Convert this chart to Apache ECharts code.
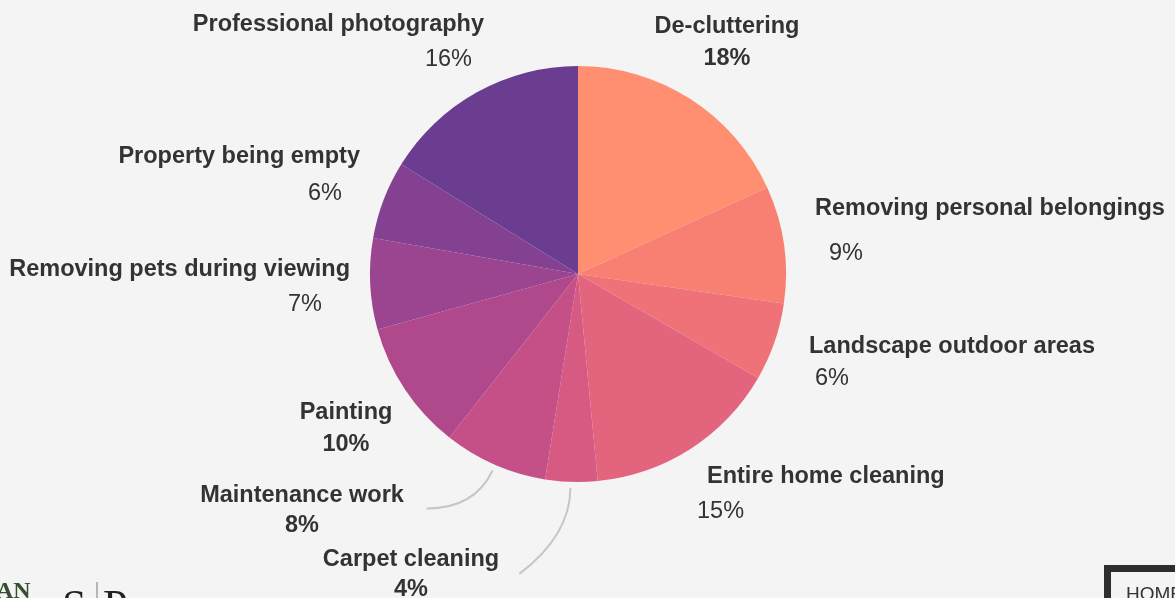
<!DOCTYPE html>
<html>
<head>
<meta charset="utf-8">
<script src="https://cdn.jsdelivr.net/npm/echarts@6/dist/echarts.min.js"></script>
<style>
html,body{margin:0;padding:0;background:#f4f4f4;}
#chart{width:1175px;height:598px;}
</style>
</head>
<body>
<div id="chart"></div>
<script>
// ---- data ----
const categories = ['De-cluttering', 'Removing personal belongings', 'Landscape outdoor areas',
  'Entire home cleaning', 'Carpet cleaning', 'Maintenance work', 'Painting',
  'Removing pets during viewing', 'Property being empty', 'Professional photography'];
const values = [18, 9, 6, 15, 4, 8, 10, 7, 6, 16];
const valueLabels = ['18%', '9%', '6%', '15%', '4%', '8%', '10%', '7%', '6%', '16%'];

// ---- styles ----
const colors = ['#ff8f70', '#f88073', '#ef7279', '#e2657d', '#d75a82',
  '#c45087', '#b0498b', '#9b448f', '#854191', '#6a3d91'];
const valueBold = [true, false, false, false, true, true, true, false, false, false];
// label placement: anchor x, name baseline y, align, name pad, value pad, line gap
const labelPlace = [
  { x: 727, b: 35,  align: 'center', np: 0,  vp: 0,  gap: 32 },
  { x: 815, b: 217, align: 'left',   np: 0,  vp: 14, gap: 45 },
  { x: 809, b: 355, align: 'left',   np: 0,  vp: 6,  gap: 32 },
  { x: 697, b: 485, align: 'left',   np: 10, vp: 0,  gap: 35 },
  { x: 411, b: 568, align: 'center', np: 0,  vp: 0,  gap: 30 },
  { x: 302, b: 504, align: 'center', np: 0,  vp: 0,  gap: 30 },
  { x: 346, b: 421, align: 'center', np: 0,  vp: 0,  gap: 32 },
  { x: 350, b: 278, align: 'right',  np: 0,  vp: 28, gap: 35 },
  { x: 360, b: 165, align: 'right',  np: 0,  vp: 18, gap: 37 },
  { x: 484, b: 33,  align: 'right',  np: 0,  vp: 12, gap: 35 }
];
// guide curves (start, control, end) as offsets from the slice's outer mid point
const guides = {
  4: [[-1, 6], [-1, 53], [-52, 92]],
  5: [[-2, 6], [-20, 44], [-68, 44]]
};

const CENTER = [578, 274];
const RADIUS = 208;
const FONT = "'Liberation Sans', Arial, sans-serif";
const FS = 23.5;
const NAME_LH = 32;

function makePad(p, pad) {
  if (p.align === 'left') return [0, 0, 0, pad];
  if (p.align === 'right') return [0, pad, 0, 0];
  return [0, 0, 0, 0];
}

const data = categories.map(function (c, i) {
  const p = labelPlace[i];
  return {
    name: c,
    value: values[i],
    itemStyle: { color: colors[i] },
    label: {
      formatter: '{n|' + c + '}\n{v|' + valueLabels[i] + '}',
      rich: {
        n: { fontFamily: FONT, fontSize: FS, fontWeight: 'bold', color: '#333', lineHeight: NAME_LH, padding: makePad(p, p.np) },
        v: { fontFamily: FONT, fontSize: FS, fontWeight: valueBold[i] ? 'bold' : 'normal', color: '#333', lineHeight: 2 * p.gap - NAME_LH, padding: makePad(p, p.vp) }
      }
    }
  };
});

// guide curves anchored at each slice's outer mid-angle point (derived from the values)
const total = values.reduce(function (s, v) { return s + v; }, 0);
const guideGraphics = [];
let cum = 0;
values.forEach(function (v, i) {
  const theta = (cum + v / 2) / total * Math.PI * 2;
  cum += v;
  if (!guides[i]) return;
  const ax = CENTER[0] + RADIUS * Math.sin(theta);
  const ay = CENTER[1] - RADIUS * Math.cos(theta);
  const g = guides[i];
  guideGraphics.push({
    type: 'bezierCurve',
    shape: { x1: ax + g[0][0], y1: ay + g[0][1], cpx1: ax + g[1][0], cpy1: ay + g[1][1], x2: ax + g[2][0], y2: ay + g[2][1] },
    style: { stroke: '#c6c6c6', lineWidth: 2, fill: null }
  });
});

const chart = echarts.init(document.getElementById('chart'), null, { renderer: 'canvas' });
chart.setOption({
  backgroundColor: '#f4f4f4',
  animation: false,
  series: [{
    type: 'pie',
    center: CENTER,
    radius: [0, RADIUS],
    startAngle: 90,
    clockwise: true,
    avoidLabelOverlap: false,
    label: { show: true, position: 'outside' },
    labelLine: { show: false },
    emphasis: { disabled: true },
    labelLayout: function (params) {
      const p = labelPlace[params.dataIndex];
      return { x: p.x, y: p.b - NAME_LH / 2 - 8, align: p.align, verticalAlign: 'top' };
    },
    data: data
  }],
  graphic: guideGraphics.concat([
    { type: 'text', left: -4, top: 580, style: { text: 'AN', font: "bold 24px 'Liberation Serif', serif", fill: '#34502c' } },
    { type: 'text', left: 62, top: 586, style: { text: 'S', font: "44px 'Liberation Serif', serif", fill: '#222' } },
    { type: 'line', shape: { x1: 97, y1: 582, x2: 97, y2: 598 }, style: { stroke: '#777', lineWidth: 1 } },
    { type: 'text', left: 103, top: 586, style: { text: 'P', font: "44px 'Liberation Serif', serif", fill: '#222' } },
    { type: 'rect', shape: { x: 1107.5, y: 568.5, width: 200, height: 100 }, style: { fill: '#f4f4f4', stroke: '#2e2e2e', lineWidth: 7 } },
    { type: 'text', left: 1126, top: 585, style: { text: 'HOME', font: "19px 'Liberation Sans', Arial, sans-serif", fill: '#333' } }
  ])
});
</script>
</body>
</html>
